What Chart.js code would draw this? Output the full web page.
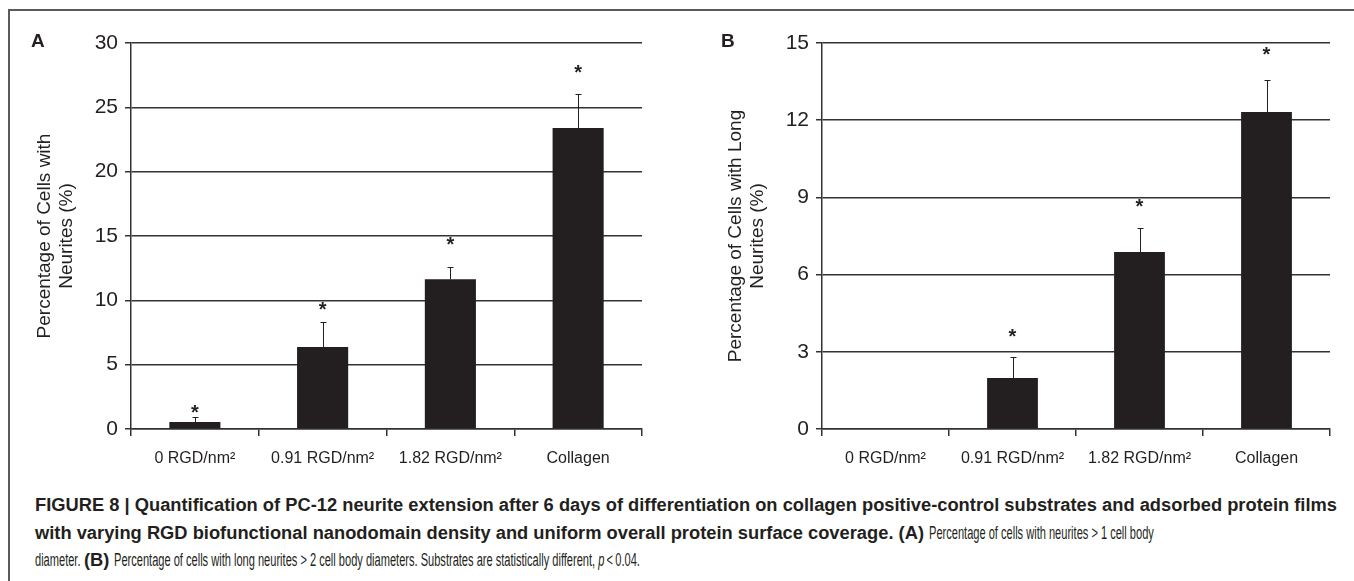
<!DOCTYPE html>
<html>
<head>
<meta charset="utf-8">
<script src="https://cdn.jsdelivr.net/npm/chart.js@4.4.1/dist/chart.umd.min.js"></script>
<style>
  body { margin: 0; background: #fff; width: 1354px; height: 581px; overflow: hidden; position: relative; font-family: "Liberation Sans", Arial, sans-serif; color: #231f20; }
  .frame { position: absolute; left: 8px; top: 9px; width: 1360px; height: 600px; border-top: 2px solid #5a5a5a; border-left: 2px solid #5a5a5a; }
  .panel { position: absolute; top: 0; height: 480px; }
  .tag { position: absolute; top: 30px; font-weight: bold; font-size: 19px; }
  .caption { position: absolute; left: 35px; top: 492px; font-size: 18px; line-height: 27.5px; white-space: nowrap; color: #231f20; }
  .caption span { display: inline-block; transform-origin: 0 0; }
  .caption .b { font-weight: bold; }
</style>
</head>
<body>
<div class="frame"></div>
<div class="panel" style="left:0;width:680px;"><canvas id="chartA"></canvas></div>
<div class="panel" style="left:680px;width:674px;"><canvas id="chartB"></canvas></div>
<div class="tag" style="left:31px;">A</div>
<div class="tag" style="left:721px;">B</div>
<div class="caption" id="caption">
  <div><span class="b" id="b1">FIGURE 8 | Quantification of PC-12 neurite extension after 6 days of differentiation on collagen positive-control substrates and adsorbed protein films</span></div>
  <div><span class="b">with varying RGD biofunctional nanodomain density and uniform overall protein surface coverage. (A)&nbsp;</span><span class="r">Percentage of cells with neurites &gt; 1 cell body</span></div>
  <div><span class="r" id="r3a">diameter.&nbsp;</span><span class="b" id="b3">(B)&nbsp;</span><span class="r" id="r3b">Percentage of cells with long neurites &gt; 2 cell body diameters. Substrates are statistically different, <i>p</i>&thinsp;&lt;&thinsp;0.04.</span></div>
</div>
<script>
var substrates = ["0 RGD/nm²", "0.91 RGD/nm²", "1.82 RGD/nm²", "Collagen"];

// panel A: cells with neurites
var neuritesA = [0.54, 6.37, 11.64, 23.39];
var errTopA = [0.93, 8.31, 12.59, 26.02];
var starA = [1.63, 9.63, 14.69, 28.05];

// panel B: cells with long neurites
var neuritesB = [0, 1.98, 6.88, 12.32];
var errTopB = [null, 2.80, 7.81, 13.56];
var starB = [null, 3.77, 8.82, 14.69];

var ink = "#231f20";
var lineCol = "#333333";

// the printed caption uses a condensed face (the light weight is narrower still);
// squeeze bold and regular runs separately so the lines end where the print does
(function () {
  const wOf = (id) => document.getElementById(id).getBoundingClientRect().width;
  const kb = 1302 / wOf("b1");
  const kr = (605 - kb * wOf("b3")) / (wOf("r3a") + wOf("r3b"));
  document.querySelectorAll(".caption span").forEach((s) => {
    const k = s.classList.contains("b") ? kb : kr;
    const w = s.getBoundingClientRect().width;
    s.style.transform = "scaleX(" + k + ")";
    s.style.marginRight = -(w * (1 - k)) + "px";
  });
})();

// draws the upper error whisker and significance star above each bar
const barExtras = {
  id: "barExtras",
  afterDatasetsDraw(chart, args, opts) {
    const ctx = chart.ctx;
    const y = chart.scales.y;
    const bars = chart.getDatasetMeta(0).data;
    ctx.save();
    ctx.strokeStyle = ink;
    ctx.lineWidth = 1;
    bars.forEach((bar, i) => {
      const top = opts.errTop[i];
      if (top != null) {
        const yt = Math.round(y.getPixelForValue(top)) + 0.5;
        const x = Math.round(bar.x) + 0.5;
        ctx.beginPath();
        ctx.moveTo(x, bar.y);
        ctx.lineTo(x, yt);
        ctx.moveTo(x - 3, yt);
        ctx.lineTo(x + 3, yt);
        ctx.stroke();
      }
      const s = opts.star[i];
      if (s != null) {
        ctx.fillStyle = ink;
        ctx.font = "bold 20px 'Liberation Sans', Arial, sans-serif";
        ctx.textAlign = "center";
        ctx.textBaseline = "middle";
        ctx.fillText("*", bar.x, y.getPixelForValue(s) + 5);
      }
    });
    ctx.restore();
  }
};

function makeConfig(values, errTop, star, max, step, title, yWidth, titlePad, padRight) {
  return {
    type: "bar",
    data: {
      labels: substrates,
      datasets: [
        {
          data: values,
          backgroundColor: ink,
          borderWidth: 0,
          categoryPercentage: 1,
          barPercentage: 0.4,
        },
      ],
    },
    options: {
      responsive: true,
      maintainAspectRatio: false,
      animation: false,
      layout: { padding: { top: 43, right: padRight, left: 0, bottom: 0 } },
      plugins: {
        legend: { display: false },
        tooltip: { enabled: false },
        barExtras: { errTop: errTop, star: star },
      },
      scales: {
        x: {
          afterFit(scale) { scale.height = 51; },
          grid: {
            offset: true,
            color: (c) => (c.index === substrates.length ? lineCol : "transparent"),
            tickColor: lineCol,
            tickLength: 7,
            lineWidth: 1.5,
          },
          border: { display: true, color: lineCol, width: 1.5 },
          ticks: {
            color: ink,
            padding: 13,
            maxRotation: 0,
            font: { family: "'Liberation Sans', Arial, sans-serif", size: 16 },
          },
        },
        y: {
          min: 0,
          max: max,
          afterFit(scale) { scale.width = yWidth; },
          grid: { color: lineCol, tickColor: lineCol, tickLength: 6, lineWidth: 1.5 },
          border: { display: true, color: lineCol, width: 1.5 },
          ticks: {
            stepSize: step,
            color: ink,
            padding: 7,
            font: { family: "'Liberation Sans', Arial, sans-serif", size: 21 },
          },
          title: {
            display: true,
            text: title,
            color: ink,
            padding: { top: titlePad, bottom: 0 },
            font: { family: "'Liberation Sans', Arial, sans-serif", size: 19, lineHeight: 1.2 },
          },
        },
      },
    },
    plugins: [barExtras],
  };
}

const chartA = new Chart(
  document.getElementById("chartA"),
  makeConfig(neuritesA, errTopA, starA, 30, 5, ["Percentage of Cells with", "Neurites (%)"], 131, 33, 38)
);
const chartB = new Chart(
  document.getElementById("chartB"),
  makeConfig(neuritesB, errTopB, starB, 15, 3, ["Percentage of Cells with Long", "Neurites (%)"], 142, 44, 24)
);
</script>
</body>
</html>
